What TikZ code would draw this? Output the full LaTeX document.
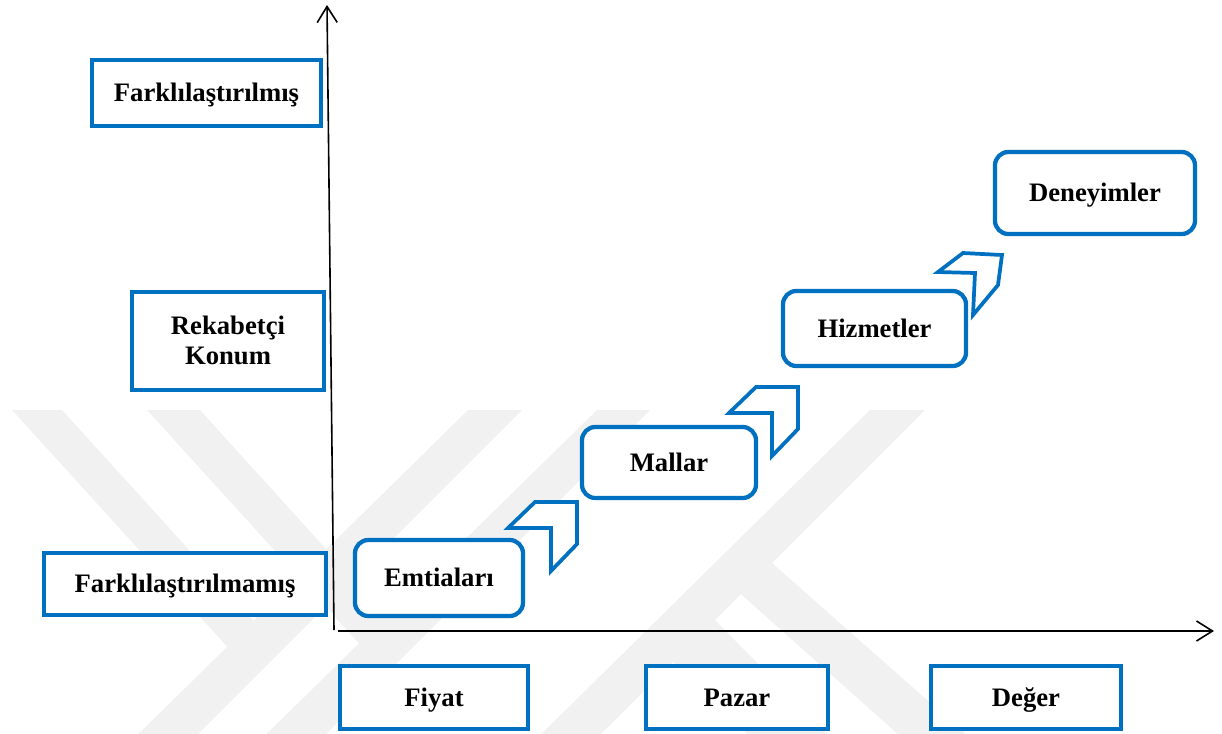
\documentclass[tikz,border=0pt]{standalone}
\usepackage{fontspec}
\setmainfont{Liberation Serif}
\usetikzlibrary{arrows.meta}
\definecolor{boxblue}{HTML}{0070C0}
\definecolor{wmgray}{gray}{0.945}
\begin{document}
\begin{tikzpicture}[x=0.75pt,y=-0.75pt,
  lbl/.style={font=\fontsize{20}{22.5}\selectfont\bfseries, align=center,
              inner sep=0pt, text height=13.2pt, text depth=0pt},
  sqbox/.style={lbl, draw=boxblue, line width=3.2pt, fill=white},
  rbox/.style={sqbox, rounded corners=10pt},
  chev/.style={draw=boxblue, line width=2.8pt, fill=white, line join=miter},
  axisline/.style={line width=1.2pt, -{Straight Barb[length=12pt,width=15pt]}},
  wm/.style={fill=wmgray, draw=none}
]
\useasboundingbox (0,0) rectangle (1222,733);

% faint background emblem
\begin{scope}
  \clip (0,0) rectangle (1222,733);
  % rising bands
  \fill[wm] (468,410) -- (522,410) -- (172,760) -- (112,760) -- cycle;
  \fill[wm] (597,410) -- (650,410) -- (300,760) -- (240,760) -- cycle;
  \fill[wm] (870,410) -- (925,410) -- (575,760) -- (515,760) -- cycle;
  % falling arms meeting the rising bands
  \fill[wm] (12,410) -- (62,410) -- (281,651) -- (242,663) -- cycle;
  \fill[wm] (147,410) -- (200,410) -- (414,646) -- (374,660) -- cycle;
  % falling arms leaving the right band
  \fill[wm] (725,580) -- (755,548) -- (995,760) -- (927,760) -- cycle;
  \fill[wm] (655,645) -- (700,605) -- (853,760) -- (775,760) -- cycle;
\end{scope}

% axes
\coordinate (yb) at (334,630);
\coordinate (yt) at (327,5);
\coordinate (xb) at (338,631);
\coordinate (xt) at (1214,631);
\draw[axisline] (yb) -- (yt);
\draw[axisline] (xb) -- (xt);

% vertical axis labels
\node[sqbox, minimum width=171.75pt, minimum height=49.5pt] (fa) at (206.5,93) {Farklılaştırılmış};
\node[sqbox, minimum width=144pt, minimum height=73.5pt, text height=35.7pt] (rk) at (228,341) {Rekabetçi\\Konum};
\node[sqbox, minimum width=211.5pt, minimum height=46.5pt] (fm) at (185,584) {Farklılaştırılmamış};

% horizontal axis labels
\node[sqbox, minimum width=141pt, minimum height=47.25pt] (fi) at (434,697.5) {Fiyat};
\node[sqbox, minimum width=136.5pt, minimum height=47.25pt] (pa) at (737,697.5) {Pazar};
\node[sqbox, minimum width=142.5pt, minimum height=47.25pt] (de) at (1026,697.5) {Değer};

% progression steps
\node[rbox, minimum width=126pt, minimum height=57pt] (em) at (439,578) {Emtiaları};
\node[rbox, minimum width=130.5pt, minimum height=53.25pt] (ma) at (669,462.5) {Mallar};
\node[rbox, minimum width=137.25pt, minimum height=56.25pt] (hi) at (874.5,328.5) {Hizmetler};
\node[rbox, minimum width=150pt, minimum height=61.5pt] (dn) at (1095,193) {Deneyimler};

% chevrons between the steps
\draw[chev] (535,502) -- (577,502) -- (577,544) -- (551,571) -- (551,528) -- (508,528) -- cycle;
\draw[chev] (756,387) -- (798,387) -- (798,429) -- (772,456) -- (772,413) -- (729,413) -- cycle;
\draw[chev] (963,253) -- (1002,255) -- (998,285) -- (973,315) -- (975,273) -- (938,272) -- cycle;
\end{tikzpicture}
\end{document}
